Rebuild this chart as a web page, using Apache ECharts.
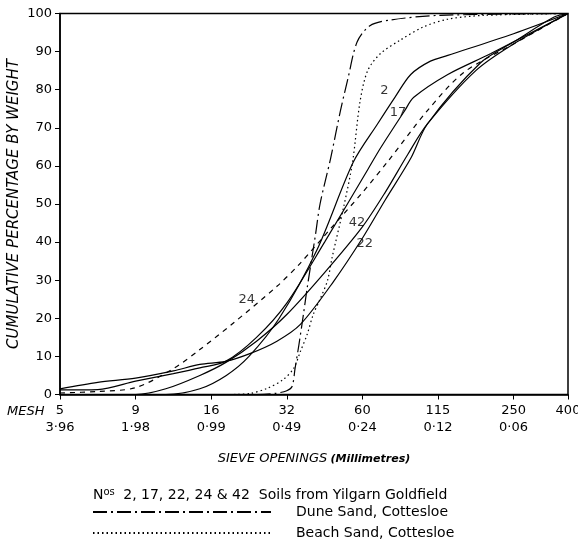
<!DOCTYPE html>
<html>
<head>
<meta charset="utf-8">
<script src="https://cdn.jsdelivr.net/npm/echarts@6/dist/echarts.min.js"></script>
<style>
  html, body { margin: 0; padding: 0; background: #fff; }
  #main { width: 578px; height: 547px; }
</style>
</head>
<body>
<div id="main"></div>
<script>
// x position = doublings of sieve opening from 3.96 mm (5 mesh)
const tickPos = [0, 1, 2, 3, 4, 5, 6, 6.72];
const meshLabels = ["5", "9", "16", "32", "60", "115", "250", "400"];
const mmLabels = ["3·96", "1·98", "0·99", "0·49", "0·24", "0·12", "0·06", ""];

const soil2 = [[0, 0], [1.4, 0], [1.85, 1.5], [2.2, 5], [2.5, 10], [2.9, 20], [3.4, 38], [3.88, 61], [4.2, 71], [4.43, 78], [4.64, 84], [4.9, 87.5], [5.13, 89], [6, 94.7], [6.72, 100]];
const soil17 = [[0, 1.2], [0.5, 1.3], [1, 3.5], [1.5, 5.5], [1.85, 7], [2.19, 8.7], [2.6, 15], [3, 24], [3.5, 40], [4.07, 59], [4.24, 64.7], [4.56, 74.5], [4.68, 78], [5.13, 84], [5.7, 89.5], [6.72, 100]];
const soil22 = [[0, 1.5], [0.5, 3.2], [1, 4.3], [1.5, 6.2], [1.85, 7.9], [2.19, 8.7], [2.52, 10.8], [2.87, 14], [3.18, 18.4], [3.62, 29.7], [4.0, 41], [4.3, 51], [4.64, 62], [4.86, 71], [5.56, 87], [6, 92.5], [6.53, 99], [6.72, 100]];
const soil24 = [[0, 0.4], [0.5, 0.8], [1, 1.8], [1.5, 6.8], [1.85, 11.8], [2.29, 18.7], [2.87, 28.4], [3.18, 34.5], [3.6, 44], [4.0, 53], [4.33, 61], [4.86, 74.5], [5.34, 84.5], [6, 92], [6.72, 100]];
const soil42 = [[0, 0], [1, 0], [1.4, 1.5], [1.85, 5], [2.2, 8.5], [2.6, 14], [3, 21], [3.5, 32], [4.0, 44], [4.3, 53], [4.6, 63], [4.86, 71], [5.5, 85], [6, 92], [6.72, 100]];
const duneSand = [[2.6, 0], [2.85, 0.3], [3.0, 1], [3.07, 2.1], [3.11, 6.9], [3.16, 13], [3.22, 21], [3.27, 28], [3.38, 42], [3.44, 50], [3.58, 62], [3.71, 74.5], [3.81, 83], [3.93, 92.5], [4.1, 96.8], [4.37, 98.3], [5.0, 99.5], [6.72, 100]];
const beachSand = [[2.3, 0], [2.52, 0.3], [2.74, 1.6], [2.95, 3.9], [3.09, 6.8], [3.18, 11.3], [3.27, 15.8], [3.35, 21], [3.44, 25], [3.54, 30], [3.6, 36], [3.75, 49], [3.87, 61], [3.97, 77], [4.07, 85], [4.24, 89.5], [4.5, 93], [4.81, 96.5], [5.13, 98.5], [5.6, 99.5], [6.72, 100]];

// where the curve numbers are written
const curveLabels = [
  { text: "2", at: [4.29, 79.8] },
  { text: "17", at: [4.47, 74] },
  { text: "42", at: [3.93, 45.2] },
  { text: "22", at: [4.03, 39.7] },
  { text: "24", at: [2.47, 25] },
];

const font = '"DejaVu Sans", sans-serif';

function curve(name, data, type, width) {
  return {
    name: name,
    type: "line",
    data: data,
    symbol: "none",
    smooth: 0.3,
    color: "#000",
    lineStyle: { color: "#000", width: width || 1.2, type: type || "solid" },
    silent: true,
  };
}

function legendRow(name, top) {
  return {
    left: 92,
    top: top,
    padding: 0,
    itemWidth: 178,
    itemHeight: 12,
    selectedMode: false,
    itemStyle: { opacity: 0 },
    data: [name],
    textStyle: { fontSize: 14, fontFamily: font, color: "#000", padding: [0, 0, 0, 20] },
  };
}

var chart = echarts.init(document.getElementById("main"));

var labelSeries = {
  type: "scatter",
  data: curveLabels.map((d) => ({ value: d.at, name: d.text })),
  symbolSize: 0,
  silent: true,
  label: {
    show: true,
    position: "inside",
    formatter: (p) => p.name,
    color: "#000",
    fontSize: 13,
    fontFamily: font,
  },
};

var option = {
  animation: false,
  backgroundColor: "#fff",
  grid: { left: 60, right: 10, top: 13.5, bottom: 152.5, outerBoundsMode: "none", show: true, borderColor: "#000", borderWidth: 1.5 },
  title: {
    text: "{n|N}{s|os} 2, 17, 22, 24 & 42  Soils from Yilgarn Goldfield",
    left: 88,
    top: 482,
    textStyle: {
      fontSize: 14,
      fontWeight: "normal",
      fontFamily: font,
      color: "#000",
      rich: {
        n: { fontSize: 14, fontFamily: font, color: "#000" },
        s: { fontSize: 10, fontFamily: font, color: "#000", verticalAlign: "top", padding: [0, 4, 6, 0] },
      },
    },
  },
  legend: [legendRow("Dune Sand, Cottesloe", 505), legendRow("Beach Sand, Cottesloe", 526)],
  graphic: [
    { type: "text", left: 7, top: 405, style: { text: "MESH", font: "italic 13px " + font, fill: "#000" } },
  ],
  xAxis: {
    type: "value",
    min: 0,
    max: 6.72,
    splitLine: { show: false },
    axisLine: { lineStyle: { color: "#000", width: 1.5 } },
    axisTick: { customValues: tickPos, length: 5, lineStyle: { color: "#000" } },
    axisLabel: {
      customValues: tickPos,
      margin: 8,
      formatter: (v) => {
        var i = tickPos.findIndex((p) => Math.abs(p - v) < 0.01);
        if (i < 0) return "";
        return "{m|" + meshLabels[i] + "}\n{d|" + mmLabels[i] + "}";
      },
      rich: {
        m: { fontSize: 13, fontFamily: font, color: "#000", lineHeight: 17 },
        d: { fontSize: 13, fontFamily: font, color: "#000", lineHeight: 17 },
      },
    },
    name: "{a|SIEVE OPENINGS} {b|(Millimetres)}",
    nameLocation: "middle",
    nameGap: 58,
    nameTextStyle: {
      rich: {
        a: { fontSize: 13, fontStyle: "italic", fontFamily: font, color: "#000" },
        b: { fontSize: 11, fontStyle: "italic", fontWeight: "bold", fontFamily: font, color: "#000" },
      },
    },
  },
  yAxis: {
    type: "value",
    min: 0,
    max: 100,
    interval: 10,
    splitLine: { show: false },
    axisLine: { show: true, lineStyle: { color: "#000", width: 1.5 } },
    axisTick: { length: 5, lineStyle: { color: "#000" } },
    axisLabel: { fontSize: 13, fontFamily: font, color: "#000", margin: 8 },
    name: "CUMULATIVE PERCENTAGE BY WEIGHT",
    nameLocation: "middle",
    nameRotate: 90,
    nameGap: 38,
    nameMoveOverlap: false,
    nameTextStyle: { fontSize: 15, fontStyle: "italic", fontFamily: font, color: "#000" },
  },
  series: [
    curve("2", soil2),
    curve("17", soil17),
    curve("22", soil22),
    curve("24", soil24, [5, 5]),
    curve("42", soil42),
    curve("Dune Sand, Cottesloe", duneSand, [14, 4, 2, 4]),
    curve("Beach Sand, Cottesloe", beachSand, [1.5, 3]),
    labelSeries,
  ],
};

option && chart.setOption(option);
</script>
</body>
</html>
